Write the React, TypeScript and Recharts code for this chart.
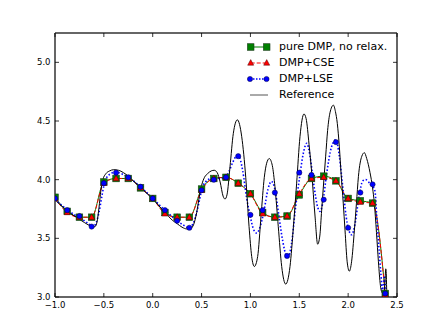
import React from 'react';
import { ComposedChart, Line, XAxis, YAxis, ReferenceLine } from 'recharts';

const markerX = [-1.0, -0.875, -0.75, -0.625, -0.5, -0.375, -0.25, -0.125, 0.0, 0.125, 0.25, 0.375, 0.5, 0.625, 0.75, 0.875, 1.0, 1.125, 1.25, 1.375, 1.5, 1.625, 1.75, 1.875, 2.0, 2.125, 2.25, 2.38];
const pureDmp = [3.85, 3.73, 3.68, 3.68, 3.98, 4.01, 4.01, 3.93, 3.84, 3.72, 3.68, 3.68, 3.92, 4.01, 4.02, 3.97, 3.88, 3.72, 3.68, 3.69, 3.87, 4.01, 4.03, 3.99, 3.84, 3.82, 3.80, 3.03];
const dmpCse = [3.84, 3.72, 3.68, 3.68, 3.97, 4.01, 4.01, 3.93, 3.84, 3.71, 3.68, 3.68, 3.91, 4.01, 4.02, 3.97, 3.88, 3.71, 3.68, 3.69, 3.88, 4.01, 4.02, 3.99, 3.84, 3.81, 3.80, 3.02];
const dmpLse = [3.84, 3.74, 3.69, 3.60, 3.97, 4.06, 4.02, 3.94, 3.84, 3.74, 3.65, 3.59, 3.91, 4.00, 4.02, 4.20, 3.70, 3.74, 3.89, 3.35, 4.06, 4.04, 3.83, 4.32, 3.59, 3.89, 3.96, 3.03];

const lseCurveX = [-1.0, -0.9, -0.8, -0.7, -0.65, -0.61, -0.58, -0.55, -0.52, -0.5, -0.47, -0.43, -0.38, -0.32, -0.25, -0.125, 0.0, 0.125, 0.25, 0.32, 0.37, 0.41, 0.45, 0.48, 0.5, 0.54, 0.6, 0.68, 0.74, 0.78, 0.82, 0.86, 0.88, 0.92, 0.96, 1.0, 1.03, 1.064, 1.1, 1.14, 1.18, 1.215, 1.25, 1.29, 1.33, 1.37, 1.388, 1.42, 1.46, 1.5, 1.54, 1.576, 1.61, 1.65, 1.69, 1.712, 1.74, 1.78, 1.83, 1.875, 1.91, 1.95, 1.99, 2.036, 2.07, 2.11, 2.15, 2.18, 2.22, 2.255, 2.275, 2.295, 2.316, 2.335, 2.35, 2.36, 2.37, 2.38, 2.39];
const lseCurveY = [3.83, 3.76, 3.70, 3.65, 3.62, 3.60, 3.63, 3.72, 3.86, 3.95, 4.02, 4.05, 4.065, 4.05, 4.02, 3.94, 3.84, 3.74, 3.65, 3.61, 3.59, 3.62, 3.72, 3.83, 3.91, 3.98, 4.01, 4.01, 4.02, 4.07, 4.15, 4.20, 4.20, 4.08, 3.85, 3.68, 3.58, 3.545, 3.60, 3.74, 3.92, 3.985, 3.92, 3.70, 3.48, 3.35, 3.345, 3.45, 3.75, 4.0, 4.22, 4.31, 4.2, 3.95, 3.76, 3.73, 3.80, 4.05, 4.28, 4.34, 4.2, 3.9, 3.63, 3.53, 3.62, 3.85, 3.99, 4.0, 3.97, 3.94, 3.9, 3.65, 3.41, 3.2, 3.06, 3.1, 3.18, 3.1, 3.02];

const refX = [-1.0, -0.9, -0.8, -0.7, -0.65, -0.62, -0.59, -0.57, -0.55, -0.53, -0.51, -0.48, -0.44, -0.40, -0.35, -0.30, -0.25, -0.2, -0.125, -0.05, 0.0, 0.05, 0.125, 0.2, 0.25, 0.3, 0.35, 0.39, 0.42, 0.45, 0.48, 0.5, 0.53, 0.56, 0.6, 0.63, 0.66, 0.69, 0.72, 0.74, 0.76, 0.791, 0.825, 0.866, 0.911, 0.952, 0.986, 1.013, 1.04, 1.074, 1.108, 1.142, 1.166, 1.193, 1.224, 1.251, 1.285, 1.32, 1.361, 1.405, 1.44, 1.473, 1.507, 1.548, 1.57, 1.6, 1.627, 1.661, 1.688, 1.71, 1.729, 1.75, 1.77, 1.79, 1.814, 1.849, 1.87, 1.889, 1.91, 1.927, 1.95, 1.968, 1.99, 2.012, 2.035, 2.064, 2.085, 2.105, 2.14, 2.166, 2.19, 2.224, 2.25, 2.268, 2.29, 2.31, 2.33, 2.345, 2.36, 2.375, 2.385, 2.39, 2.395, 2.4];
const refY = [3.83, 3.75, 3.69, 3.635, 3.61, 3.595, 3.60, 3.64, 3.76, 3.91, 4.00, 4.05, 4.075, 4.085, 4.08, 4.06, 4.03, 3.99, 3.935, 3.875, 3.835, 3.79, 3.72, 3.655, 3.625, 3.595, 3.58, 3.585, 3.62, 3.72, 3.87, 3.95, 4.02, 4.05, 4.075, 4.08, 4.06, 3.98, 3.86, 3.835, 3.87, 4.11, 4.395, 4.51, 4.366, 4.02, 3.60, 3.345, 3.26, 3.345, 3.685, 4.02, 4.14, 4.18, 4.12, 3.94, 3.60, 3.26, 3.11, 3.26, 3.60, 3.97, 4.366, 4.56, 4.52, 4.3, 4.06, 3.69, 3.45, 3.52, 3.74, 3.98, 4.2, 4.42, 4.57, 4.635, 4.58, 4.48, 4.28, 4.06, 3.8, 3.57, 3.3, 3.22, 3.3, 3.57, 3.8, 4.025, 4.2, 4.23, 4.18, 4.06, 3.93, 3.80, 3.55, 3.3, 3.1, 3.04, 3.03, 3.1, 3.24, 3.2, 3.05, 3.0];

const xTicks = [-1.0, -0.5, 0.0, 0.5, 1.0, 1.5, 2.0, 2.5];
const yTicks = [3.0, 3.5, 4.0, 4.5, 5.0];
const xDomain = [-1, 2.5];
const yDomain = [3, 5.25];

const FONT = 'DejaVu Sans';
const FRAME = '#333';
const CHART_W = 442;
const CHART_H = 331;
const M_TOP = 33;
const M_RIGHT = 45;
const Y_AXIS_W = 55;
const X_AXIS_H = 34;
const PLOT_W = CHART_W - M_RIGHT - Y_AXIS_W;
const PLOT_H = CHART_H - M_TOP - X_AXIS_H;

const fmt = (v: number) => (v < 0 ? '\u2212' + Math.abs(v).toFixed(1) : v.toFixed(1));

const pureData = markerX.map((x, i) => ({ x, y: pureDmp[i] }));
const cseData = markerX.map((x, i) => ({ x, y: dmpCse[i] }));
const lseData = markerX.map((x, i) => ({ x, y: dmpLse[i] }));
const lseCurve = lseCurveX.map((x, i) => ({ x, y: lseCurveY[i] }));
const refData = refX.map((x, i) => ({ x, y: refY[i] }));

const BottomTick = (p: any) => (
  <g>
    <line x1={p.x} x2={p.x} y1={p.y} y2={p.y - 4} stroke="#000" strokeWidth={0.8} />
    <line x1={p.x} x2={p.x} y1={p.y - PLOT_H} y2={p.y - PLOT_H + 4} stroke="#000" strokeWidth={0.8} />
    <text x={p.x} y={p.y + 10.5} textAnchor="middle" fontSize={8.5} fontFamily={FONT} fill="#000">{fmt(p.payload.value)}</text>
  </g>
);
const LeftTick = (p: any) => (
  <g>
    <line x1={p.x} x2={p.x + 4} y1={p.y} y2={p.y} stroke="#000" strokeWidth={0.8} />
    <line x1={p.x + PLOT_W} x2={p.x + PLOT_W - 4} y1={p.y} y2={p.y} stroke="#000" strokeWidth={0.8} />
    <text x={p.x - 4.5} y={p.y + 3} textAnchor="end" fontSize={8.5} fontFamily={FONT} fill="#000">{fmt(p.payload.value)}</text>
  </g>
);

const Square = (cx: number, cy: number, key?: any) => (
  <rect key={key} x={cx - 3.3} y={cy - 3.3} width={6.6} height={6.6} fill="#008000" stroke="#1b3b1b" strokeWidth={0.6} />
);
const Tri = (cx: number, cy: number, key?: any) => (
  <polygon key={key} points={`${cx},${cy - 3.4} ${cx - 3},${cy + 2.2} ${cx + 3},${cy + 2.2}`} fill="#ff0000" stroke="#4a0000" strokeWidth={0.5} />
);
const Dot = (cx: number, cy: number, key?: any) => (
  <circle key={key} cx={cx} cy={cy} r={2.6} fill="#0000ff" stroke="#00003a" strokeWidth={0.5} />
);

const LegendBox = () => {
  const rows = [
    { label: 'pure DMP, no relax.', kind: 'sq' },
    { label: 'DMP+CSE', kind: 'tri' },
    { label: 'DMP+LSE', kind: 'dot' },
    { label: 'Reference', kind: 'ref' },
  ];
  return (
    <div style={{ position: 'absolute', left: 243, top: 39, fontFamily: FONT, fontSize: 11, color: '#000', lineHeight: '16px' }}>
      {rows.map((r) => (
        <div key={r.label} style={{ display: 'flex', alignItems: 'center', height: 16 }}>
          <svg width={28} height={16} style={{ display: 'block' }}>
            {r.kind === 'sq' && (<g><line x1={7.7} x2={23.7} y1={8} y2={8} stroke="#008000" strokeWidth={1} />{Square(7.7, 8)}{Square(23.7, 8)}</g>)}
            {r.kind === 'tri' && (<g><line x1={7.7} x2={23.7} y1={8} y2={8} stroke="#ff0000" strokeWidth={1} strokeDasharray="4 2" />{Tri(7.7, 8)}{Tri(23.7, 8)}</g>)}
            {r.kind === 'dot' && (<g><line x1={7} x2={23.5} y1={8} y2={8} stroke="#0000ff" strokeWidth={1.5} strokeDasharray="1.5 1.5" />{Dot(7, 8)}{Dot(23.5, 8)}</g>)}
            {r.kind === 'ref' && (<line x1={7} x2={25} y1={8} y2={8} stroke="#555" strokeWidth={1} />)}
          </svg>
          <span style={{ marginLeft: 8, whiteSpace: 'nowrap' }}>{r.label}</span>
        </div>
      ))}
    </div>
  );
};

export default function App() {
  return (
    <div style={{ position: 'absolute', left: 0, top: 0, width: CHART_W, height: CHART_H, background: '#fff' }}>
      <ComposedChart width={CHART_W} height={CHART_H} margin={{ top: M_TOP, right: M_RIGHT, bottom: 0, left: 0 }}>
        <XAxis type="number" dataKey="x" domain={xDomain} ticks={xTicks} interval={0} height={X_AXIS_H}
          tickSize={0} tickMargin={0} tick={BottomTick} axisLine={{ stroke: FRAME, strokeWidth: 1.5 }} allowDataOverflow />
        <YAxis type="number" domain={yDomain} ticks={yTicks} interval={0} width={Y_AXIS_W}
          tickSize={0} tickMargin={0} tick={LeftTick} axisLine={{ stroke: FRAME, strokeWidth: 1.5 }} allowDataOverflow />
        <ReferenceLine y={yDomain[1]} stroke={FRAME} strokeWidth={1.5} ifOverflow="visible" />
        <ReferenceLine x={xDomain[1]} stroke={FRAME} strokeWidth={1.5} ifOverflow="visible" />
        <Line data={pureData} dataKey="y" type="monotone" stroke="#008000" strokeWidth={1} isAnimationActive={false}
          dot={(p: any) => Square(p.cx, p.cy, `sq-${p.index}`)} activeDot={false} legendType="none" />
        <Line data={cseData} dataKey="y" type="monotone" stroke="#ff0000" strokeWidth={1} strokeDasharray="4 2" isAnimationActive={false}
          dot={(p: any) => Tri(p.cx, p.cy, `tr-${p.index}`)} activeDot={false} legendType="none" />
        <Line data={lseCurve} dataKey="y" type="monotone" stroke="#0000ff" strokeWidth={1.6} strokeDasharray="1.5 2" isAnimationActive={false}
          dot={false} activeDot={false} legendType="none" />
        <Line data={lseData} dataKey="y" stroke="none" isAnimationActive={false}
          dot={(p: any) => Dot(p.cx, p.cy, `dt-${p.index}`)} activeDot={false} legendType="none" />
        <Line data={refData} dataKey="y" type="monotone" stroke="#000" strokeWidth={1} isAnimationActive={false}
          dot={false} activeDot={false} legendType="none" />
      </ComposedChart>
      <LegendBox />
    </div>
  );
}
